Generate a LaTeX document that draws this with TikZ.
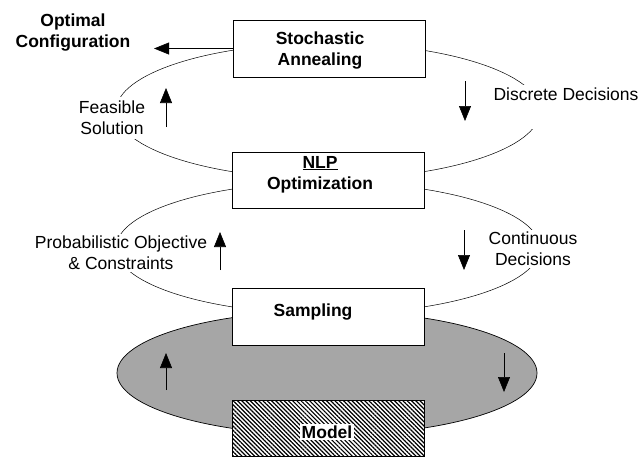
\documentclass[tikz,border=0pt]{standalone}
\usepackage{fontspec}
\setmainfont{Liberation Sans}
\usetikzlibrary{arrows.meta,patterns.meta}

\begin{document}
\begin{tikzpicture}[x=1pt, y=-1pt,
    lbl/.style={font=\fontsize{17.5}{21}\selectfont, align=center, inner sep=2pt},
    boldlbl/.style={lbl, font=\fontsize{17.5}{21}\selectfont\bfseries},
    procbox/.style={draw, line width=0.7pt, fill=white, minimum width=192pt,
      minimum height=57pt, inner sep=0pt},
    flow/.style={line width=0.6pt, -{Triangle[width=12pt, length=15pt]}},
    ring/.style={line width=0.5pt}]
  \useasboundingbox (0,0) rectangle (644,456);

  % The two thin loops between the stages
  \foreach \cy/\ry in {111/68, 248/66} {
    \draw [ring] (328,\cy) ellipse [x radius=212pt, y radius=\ry pt];
  }
  % The shaded loop round sampling and model
  \draw [line width=0.7pt, fill=gray!70] (327,373) ellipse [x radius=210pt, y radius=62pt];

  % Stage boxes
  \node [procbox] (sa) at (329,48.5) {};
  \node [procbox, minimum height=56pt] (nlp) at (328.5,180) {};
  \node [procbox] (samp) at (328,316.5) {};
  \node [procbox, minimum height=56pt, fill=none, preaction={fill=white},
    pattern={Lines[angle=-45, distance=3pt, line width=1.2pt]}] (model) at (328,428) {};

  \node [boldlbl] (sa-text) at (320,51) {Stochastic\\Annealing};
  \node [boldlbl] (nlp-text) at (320,174.5) {\underline{NLP}\\Optimization};
  \node [boldlbl] (samp-text) at (313,312) {Sampling};
  \node [boldlbl, fill=white] (model-text) at (327,432) {Model};
  \node [boldlbl] (opt) at (73,33) {Optimal\\Configuration};

  % Labels on the loops
  \node [lbl, fill=white, inner ysep=4pt] (feas) at (112,118) {Feasible\\Solution};
  \node [lbl, fill=white, anchor=base, text depth=27pt] (disc) at (566,100) {Discrete Decisions};
  \node [lbl, fill=white] (prob) at (121,253) {Probabilistic Objective\\\& Constraints};
  \node [lbl, fill=white] (cont) at (533,249) {Continuous\\Decisions};

  % Direction arrows
  \draw [flow, shorten >=21.5pt] (sa.west) -- (sa.west -| opt.east);
  \foreach \x/\ya/\yb in {166/127/88, 465/81/121, 220/270/232,
                          464/230/270, 166/390/353, 504/353/392} {
    \draw [flow] (\x,\ya) -- (\x,\yb);
  }
\end{tikzpicture}
\end{document}
